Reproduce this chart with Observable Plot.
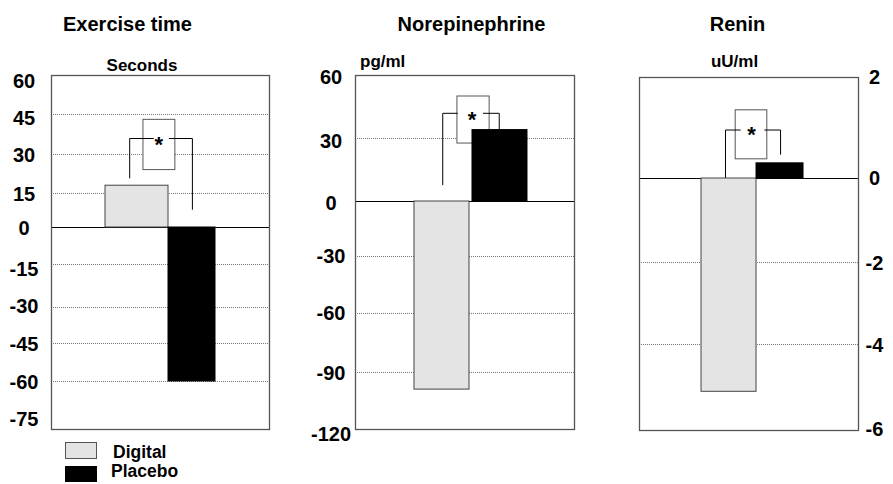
<!DOCTYPE html>
<html>
<head>
<meta charset="utf-8">
<script src="https://cdn.jsdelivr.net/npm/d3@7"></script>
<script src="https://cdn.jsdelivr.net/npm/@observablehq/plot@0.6"></script>
<style>
  body { margin: 0; background: #fff; }
  #chart { position: relative; width: 893px; height: 484px; overflow: hidden;
           font-family: "Liberation Sans", Arial, sans-serif; font-weight: bold; color: #000; }
  .abs { position: absolute; line-height: 1; white-space: nowrap; }
  .center { transform: translateX(-50%); }
  .panel { position: absolute; top: 0; }
  .swatch { position: absolute; box-sizing: border-box; }
</style>
</head>
<body>
<div id="chart"></div>
<script>
// Change from baseline, digitalis vs placebo
const categories = ["Digital", "Placebo"];
const exerciseTime = [18, -60];     // seconds
const norepinephrine = [-99, 34];   // pg/ml
const renin = [-5.1, 0.3];          // uU/ml

const exerciseTicks = [60, 45, 30, 15, 0, -15, -30, -45, -60, -75];
const norepinephrineTicks = [60, 30, 0, -30, -60, -90, -120];
const reninTicks = [2, 0, -2, -4, -6];

const titles = ["Exercise time", "Norepinephrine", "Renin"];
const units = ["Seconds", "pg/ml", "uU/ml"];

// Significance brackets (data units of each panel)
const exerciseSig = {leftFoot: 21, rightFoot: 8, top: 36, boxTop: 43, boxBottom: 24, star: 36};
const norepinephrineSig = {leftFoot: 8, rightFoot: 34, top: 42, boxTop: 50, boxBottom: 27.6, star: 41.8};
const reninSig = {leftFoot: 0, rightFoot: 0.48, top: 0.96, boxTop: 1.35, boxBottom: 0.38, star: 0.99};

const fills = ["#e4e4e4", "#000"];
const strokes = ["#444", "#000"];

const chart = document.getElementById("chart");

function panel({values, ticks, sig, left, width, marginLeft, marginRight, marginTop, marginBottom,
                 tickY, xDomain, boxX, starX, stemX, leftEnd, rightStart, insets, nudge = {},
                 labelAnchor, labelDx}) {
  const data = categories.map((category, i) => ({category, i, value: values[i]}));
  const lo = ticks[ticks.length - 1], hi = ticks[0];
  const gridTicks = ticks.filter(t => t !== 0 && t !== lo && t !== hi);
  // uneven tick spacing of the printed axis: piecewise-linear value transform
  const warp = d3.scaleLinear().domain([...ticks].reverse()).range([...tickY].reverse());
  const bracket = [
    {z: "l", x: stemX[0], y: sig.leftFoot}, {z: "l", x: stemX[0], y: sig.top}, {z: "l", x: leftEnd, y: sig.top},
    {z: "r", x: rightStart, y: sig.top}, {z: "r", x: stemX[1], y: sig.top}, {z: "r", x: stemX[1], y: sig.rightFoot}
  ];
  const svg = Plot.plot({
    width, height: 484, marginLeft, marginRight, marginTop, marginBottom,
    style: {background: "transparent"},
    x: {type: "linear", domain: xDomain, axis: null},
    y: {transform: warp, domain: [484 - marginBottom, marginTop], axis: null},
    marks: [
      Plot.ruleY(gridTicks, {stroke: "#777", strokeDasharray: "1,1", strokeWidth: 1}),
      Plot.ruleY([0], {stroke: "#000", strokeWidth: 1}),
      Plot.rect([sig], {x1: boxX[0], x2: boxX[1], y1: "boxBottom", y2: "boxTop", fill: "#fff", stroke: "#555", strokeWidth: 1}),
      Plot.line(bracket, {x: "x", y: "y", z: "z", stroke: "#000", strokeWidth: 1}),
      Plot.text([sig], {x: starX, y: "star", text: () => "*", fontSize: 22, dy: 6, fill: "#000"}),
      ...data.map((d, k) => Plot.rect([d], {x1: "i", x2: e => e.i + 1, y1: 0, y2: "value",
                                            insetLeft: insets[k][0], insetRight: insets[k][1],
                                            fill: fills[k], stroke: strokes[k], strokeWidth: 1})),
      Plot.frame({stroke: "#555", strokeWidth: 1.3}),
      ...ticks.map(t => Plot.text([t], {y: v => v, text: v => String(v), frameAnchor: labelAnchor,
                                        dx: labelDx, dy: nudge[t] || 0,
                                        textAnchor: "middle", fontSize: 20, fill: "#000"}))
    ]
  });
  svg.setAttribute("font-family", "Liberation Sans, Arial, sans-serif");
  svg.setAttribute("font-weight", "bold");
  svg.classList.add("panel");
  svg.style.left = left + "px";
  chart.appendChild(svg);
}

panel({values: exerciseTime, ticks: exerciseTicks, sig: exerciseSig,
       left: 0, width: 290, marginLeft: 51, marginRight: 21, marginTop: 75, marginBottom: 55,
       tickY: [75, 114, 154, 193, 227, 264, 307, 343, 381, 429],
       xDomain: [-0.982, 2.982], boxX: [0.69, 1.27], starX: 0.97, stemX: [0.44, 1.58],
       leftEnd: 0.87, rightStart: 1.16, insets: [[0, -8], [8, 0]],
       nudge: {60: 6, 45: 4, 30: 1.5, 15: 1, 0: 1, "-15": 5, "-30": -1, "-45": 1, "-60": 1, "-75": -9.5},
       labelAnchor: "left", labelDx: -27.5});

panel({values: norepinephrine, ticks: norepinephrineTicks, sig: norepinephrineSig,
       left: 290, width: 300, marginLeft: 65, marginRight: 16, marginTop: 75, marginBottom: 55,
       tickY: [75, 138, 201, 256, 313, 372, 429],
       xDomain: [-1.044, 2.832], boxX: [0.76, 1.33], starX: 1.02, stemX: [0.5, 1.5],
       leftEnd: 0.76, rightStart: 1.22, insets: [[0, 1.5], [1.5, 0]],
       nudge: {60: 2.5, 30: 3, 0: 2, "-90": 1.5, "-120": 5.5},
       labelAnchor: "left", labelDx: -24.5});

panel({values: renin, ticks: reninTicks, sig: reninSig,
       left: 600, width: 293, marginLeft: 39, marginRight: 35, marginTop: 77, marginBottom: 54,
       tickY: [77, 178, 262, 344, 430],
       xDomain: [-1.216, 3.078], boxX: [0.67, 1.29], starX: 0.98, stemX: [0.47, 1.55],
       leftEnd: 0.76, rightStart: 1.24, insets: [[0, -4], [4, 0]],
       nudge: {"-2": 1, "-4": 1.5, "-6": -1},
       labelAnchor: "right", labelDx: 16});

// Titles, units and legend
function label(text, {x, top, size, center = true}) {
  const el = document.createElement("div");
  el.className = "abs" + (center ? " center" : "");
  el.textContent = text;
  el.style.left = x + "px";
  el.style.top = top + "px";
  el.style.fontSize = size + "px";
  chart.appendChild(el);
}
const titleX = [127.5, 471.5, 737.5];
titles.forEach((t, i) => label(t, {x: titleX[i], top: 14, size: 20}));
label(units[0], {x: 142, top: 56.6, size: 17});
label(units[1], {x: 360, top: 52.6, size: 17, center: false});
label(units[2], {x: 734.5, top: 53, size: 17});

const legendTops = [442, 466];
categories.forEach((c, i) => {
  const sw = document.createElement("div");
  sw.className = "swatch";
  sw.style.left = "65px";
  sw.style.top = legendTops[i] + "px";
  sw.style.width = "32px";
  sw.style.height = (i === 0 ? 17 : 16) + "px";
  sw.style.background = fills[i];
  sw.style.border = "1.5px solid " + (i === 0 ? "#555" : "#000");
  chart.appendChild(sw);
});
label(categories[0], {x: 113, top: 444.2, size: 17.5, center: false});
label(categories[1], {x: 111, top: 463.2, size: 17.5, center: false});
</script>
</body>
</html>
